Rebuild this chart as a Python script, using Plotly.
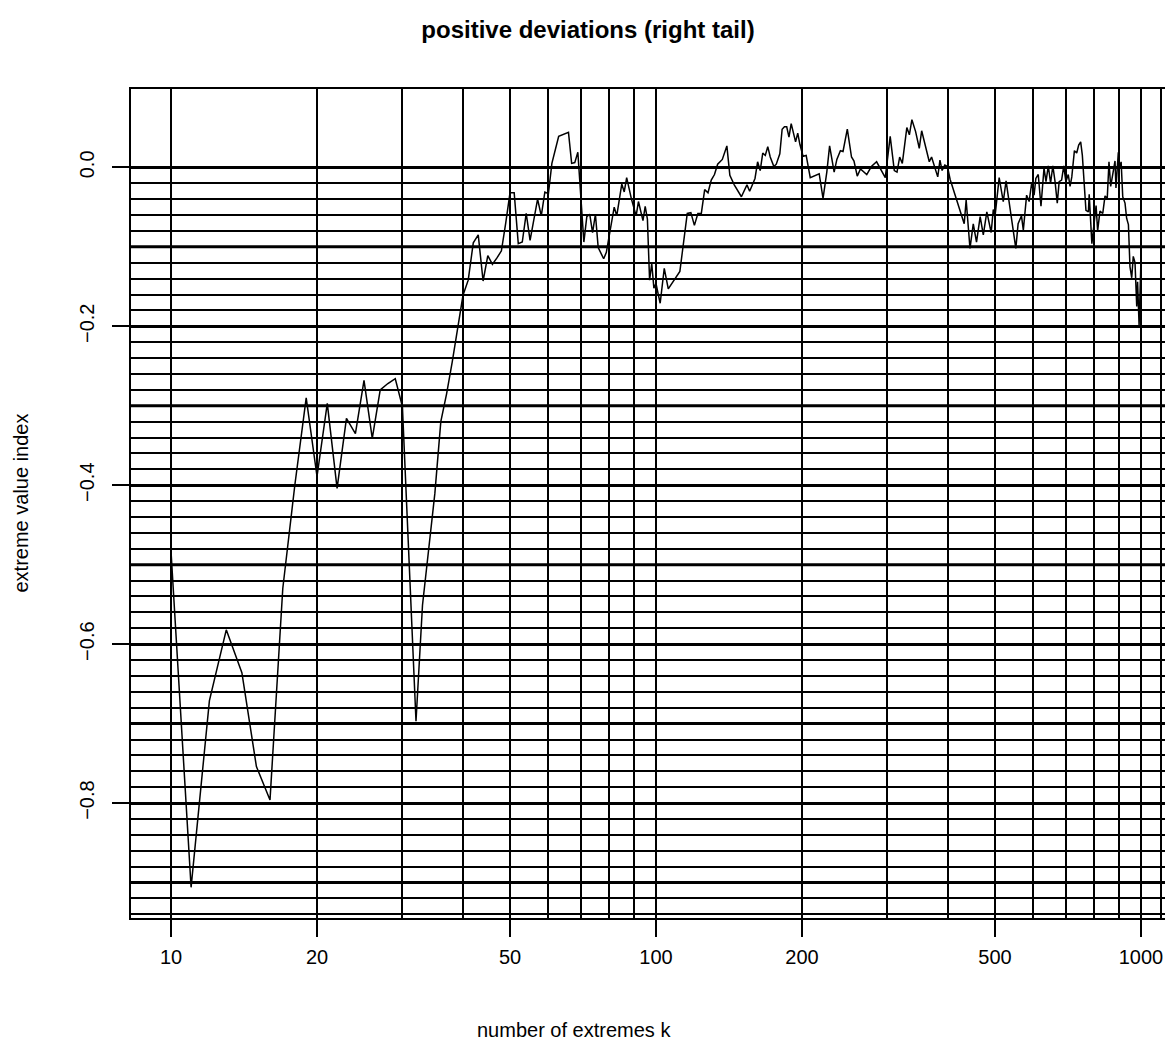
import plotly.graph_objects as go

# number of extremes k and the estimated extreme value index
k = [10, 11, 12, 13, 14, 15, 16, 17, 18, 19, 20, 21, 22, 23, 24, 25, 26, 27, 28, 29,
     30, 31, 32, 33, 34, 35, 36, 37, 38, 39, 40, 41, 42, 43, 44, 45, 46, 47, 48, 49,
     50, 51, 52, 53, 54, 55, 56, 57, 58, 59, 60, 61, 63, 66, 67, 68, 69, 71, 72, 73,
     74, 75, 76, 78, 79, 82, 83, 85, 86, 87, 89, 91, 92, 94, 95, 96, 97, 98, 99, 100,
     101, 102, 104, 106, 112, 116, 118, 120, 122, 124, 126, 128, 130, 132, 134, 137, 140, 142, 145, 150,
     154, 156, 160, 162, 164, 166, 168, 170, 172, 175, 177, 180, 182, 184, 186, 188, 190, 192, 194, 196,
     198, 201, 204, 208, 214, 217, 221, 225, 228, 233, 236, 240, 243, 248, 253, 256, 260, 264, 272, 278,
     285, 291, 297, 304, 310, 314, 318, 322, 329, 333, 337, 343, 349, 353, 359, 366, 370, 375, 381, 385,
     389, 394, 399, 404, 432, 436, 444, 451, 458, 466, 473, 481, 491, 496, 500, 510, 520, 527, 541, 552,
     558, 567, 572, 581, 588, 595, 602, 607, 614, 622, 631, 637, 644, 651, 658, 665, 672, 678, 686, 693,
     700, 708, 714, 720, 729, 737, 744, 751, 757, 770, 779, 782, 792, 800, 808, 814, 823, 834, 843, 852,
     859, 866, 874, 884, 888, 898, 905, 910, 917, 927, 934, 942, 949, 957, 964, 972, 980, 984, 991, 999]
xi = [-0.483, -0.906, -0.671, -0.582, -0.636, -0.754, -0.796, -0.53, -0.40, -0.290,
      -0.389, -0.297, -0.404, -0.316, -0.335, -0.268, -0.341, -0.280, -0.272, -0.266,
      -0.301, -0.50, -0.697, -0.551, -0.48, -0.41, -0.32, -0.285, -0.245, -0.20,
      -0.161, -0.142, -0.095, -0.085, -0.143, -0.111, -0.122, -0.114, -0.105, -0.07,
      -0.032, -0.032, -0.096, -0.094, -0.058, -0.092, -0.064, -0.040, -0.061, -0.031,
      -0.033, 0.005, 0.039, 0.044, 0.005, 0.006, 0.019, -0.094, -0.062, -0.059,
      -0.082, -0.059, -0.101, -0.115, -0.107, -0.050, -0.061, -0.021, -0.031, -0.013,
      -0.040, -0.061, -0.043, -0.067, -0.049, -0.065, -0.142, -0.121, -0.152, -0.146,
      -0.159, -0.171, -0.127, -0.153, -0.131, -0.058, -0.057, -0.073, -0.058, -0.058,
      -0.028, -0.032, -0.016, -0.009, 0.004, 0.010, 0.027, -0.010, -0.022, -0.037,
      -0.022, -0.030, -0.014, 0.007, -0.004, 0.018, 0.015, 0.026, 0.013, 0.001,
      0.004, 0.017, 0.048, 0.051, 0.051, 0.038, 0.055, 0.042, 0.032, 0.043,
      0.029, 0.014, 0.015, -0.013, -0.009, -0.008, -0.039, -0.006, 0.027, -0.006,
      0.010, 0.021, 0.020, 0.048, 0.013, 0.008, -0.011, -0.002, -0.009, 0.001,
      0.007, -0.003, -0.013, 0.039, -0.004, -0.006, 0.013, 0.005, 0.050, 0.041,
      0.060, 0.045, 0.024, 0.046, 0.026, 0.007, 0.013, 0.001, -0.012, 0.009,
      -0.004, 0.003, 0.001, -0.015, -0.071, -0.041, -0.102, -0.071, -0.094, -0.062,
      -0.085, -0.056, -0.082, -0.053, -0.062, -0.013, -0.043, -0.017, -0.062, -0.102,
      -0.071, -0.061, -0.079, -0.035, -0.043, -0.020, -0.035, -0.014, -0.009, -0.049,
      -0.001, -0.018, 0.002, -0.020, 0.002, -0.018, -0.045, -0.018, -0.016, 0.002,
      -0.018, -0.009, -0.024, -0.012, 0.021, 0.018, 0.028, 0.032, 0.015, -0.054,
      -0.056, -0.034, -0.096, -0.067, -0.048, -0.080, -0.055, -0.058, -0.036, -0.039,
      0.007, -0.024, -0.009, 0.008, -0.026, 0.019, -0.002, 0.007, -0.037, -0.045,
      -0.064, -0.072, -0.125, -0.139, -0.112, -0.120, -0.175, -0.144, -0.199, -0.125]

# axis ticks and grid positions
x_labels = [10, 20, 50, 100, 200, 500, 1000]
x_grid = [30, 40, 60, 70, 80, 90, 300, 400, 600, 700, 800, 900, 1100]
y_labels = [-0.8, -0.6, -0.4, -0.2, 0.0]
y_thick = [-0.9, -0.7, -0.5, -0.3, -0.1]
y_thin = [round(-0.94 + 0.02 * i, 2) for i in range(48)]
y_thin = [v for v in y_thin if round(v * 10, 6) != round(v * 10)]

fig = go.Figure()
fig.add_trace(go.Scatter(
    x=k, y=xi, mode="lines",
    line=dict(color="black", width=1.5),
    showlegend=False, hoverinfo="skip"
))

# thick unlabelled lines at odd tenths
for v in y_thick:
    fig.add_shape(type="line", xref="paper", x0=0, x1=1, yref="y", y0=v, y1=v,
                  line=dict(color="black", width=3), layer="below")

# the page body has an 8px margin, so the figure is 8px smaller each way
fig.update_layout(
    width=1165, height=1040,
    margin=dict(l=123, r=0, t=81, b=130),
    paper_bgcolor="white", plot_bgcolor="white",
    font=dict(family="Liberation Sans, Arial, sans-serif", size=20, color="black"),
    title=dict(text="<b>positive deviations (right tail)</b>", font=dict(size=24),
               x=580 / 1165, xref="container", xanchor="center",
               y=1 - 22 / 1040, yref="container", yanchor="middle"),
    xaxis=dict(
        type="log", range=[0.9175, 3.066],
        tickmode="array", tickvals=x_labels, ticktext=[str(v) for v in x_labels],
        ticks="outside", ticklen=17, tickwidth=1.5, tickcolor="black",
        ticklabelstandoff=3,
        showgrid=True, gridcolor="black", gridwidth=2,
        minor=dict(tickmode="array", tickvals=x_grid, showgrid=True,
                   gridcolor="black", gridwidth=2, ticks=""),
        showline=True, linecolor="black", linewidth=1.5, mirror=True,
        zeroline=False,
    ),
    yaxis=dict(
        range=[-0.9446, 0.0986],
        tickmode="array", tickvals=y_labels, tickformat=".1f", tickangle=-90,
        ticks="outside", ticklen=17, tickwidth=1.5, tickcolor="black",
        ticklabelstandoff=10,
        showgrid=True, gridcolor="black", gridwidth=3,
        minor=dict(tickmode="array", tickvals=y_thin, showgrid=True,
                   gridcolor="black", gridwidth=2, ticks=""),
        showline=True, linecolor="black", linewidth=1.5, mirror=False,
        zeroline=False,
    ),
    annotations=[
        dict(text="number of extremes k", xref="paper", yref="paper",
             x=0.4251, y=(918 - 1030) / 829, xanchor="center", yanchor="middle",
             showarrow=False, font=dict(size=20)),
        dict(text="extreme value index", xref="paper", yref="paper",
             x=(20 - 131) / 1042, y=0.5, xanchor="center", yanchor="middle",
             textangle=-90, showarrow=False, font=dict(size=20)),
    ],
)

fig.write_html("out.html")
